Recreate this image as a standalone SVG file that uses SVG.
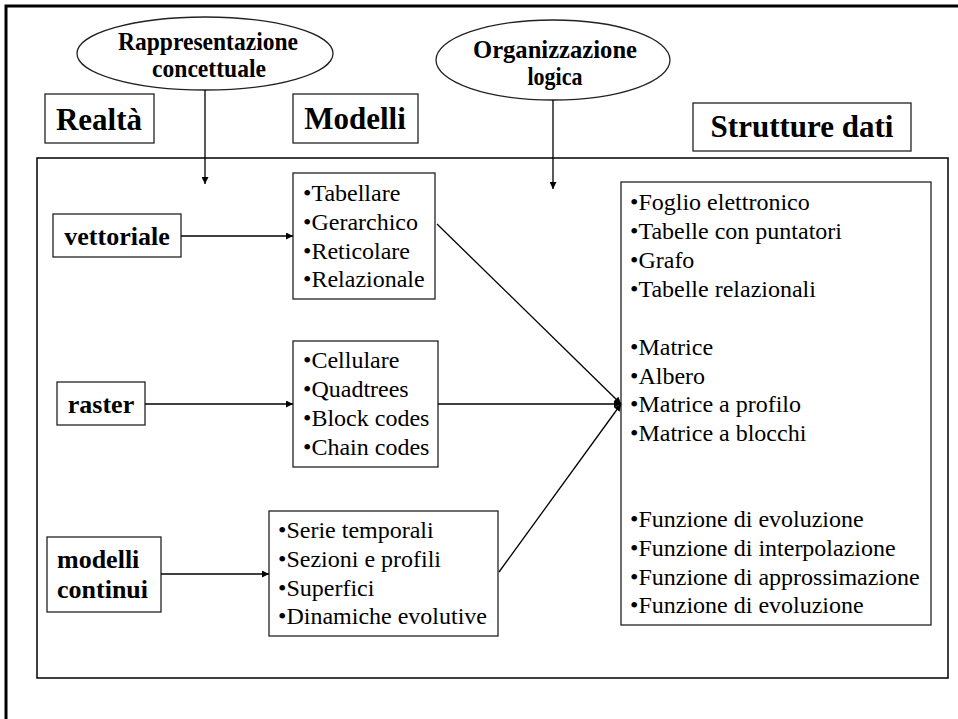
<svg xmlns="http://www.w3.org/2000/svg" width="958" height="719" viewBox="0 0 958 719">
  <style>
    text { font-family: 'Liberation Serif', 'DejaVu Serif', serif; fill: #000; }
    .box { fill: #fff; stroke: #222; stroke-width: 1.3; }
    .frame { fill: none; stroke: #000; stroke-width: 1.5; }
    .title { font-weight: bold; font-size: 31px; }
    .label { font-weight: bold; font-size: 26px; }
    .oval { font-weight: bold; font-size: 25px; }
    .item { font-size: 24px; }
    .wire { fill: none; stroke: #000; stroke-width: 1.3; }
  </style>
  <defs>
    <marker id="arrow" viewBox="0 0 10 10" refX="10" refY="5" markerWidth="8" markerHeight="7" markerUnits="userSpaceOnUse" orient="auto">
      <path d="M0,0 L10,5 L0,10 z" fill="#000"/>
    </marker>
  </defs>

  <rect width="958" height="719" fill="#fff"/>

  <!-- page border -->
  <polyline points="6,719 6,6 958,6" fill="none" stroke="#000" stroke-width="3"/>

  <!-- inner frame -->
  <rect class="frame" x="37" y="158" width="911" height="520"/>

  <!-- column headers -->
  <g id="realta">
    <rect class="box" x="45" y="94" width="109" height="49"/>
    <text class="title" x="99" y="130" text-anchor="middle">Realtà</text>
  </g>
  <g id="modelli">
    <rect class="box" x="293" y="94" width="125" height="49"/>
    <text class="title" x="355" y="129" text-anchor="middle">Modelli</text>
  </g>
  <g id="strutture">
    <rect class="box" x="693" y="103" width="218" height="48"/>
    <text class="title" x="802" y="137" text-anchor="middle">Strutture dati</text>
  </g>

  <!-- ovals -->
  <g id="rappresentazione">
    <ellipse class="box" cx="205" cy="53.5" rx="128" ry="36.5"/>
    <text class="oval" x="208" y="50" text-anchor="middle" textLength="180" lengthAdjust="spacingAndGlyphs">Rappresentazione</text>
    <text class="oval" x="209" y="77" text-anchor="middle" textLength="114" lengthAdjust="spacingAndGlyphs">concettuale</text>
  </g>
  <g id="organizzazione">
    <ellipse class="box" cx="553" cy="60" rx="117" ry="40"/>
    <text class="oval" x="555" y="58" text-anchor="middle" textLength="164" lengthAdjust="spacingAndGlyphs">Organizzazione</text>
    <text class="oval" x="555" y="85" text-anchor="middle" textLength="55" lengthAdjust="spacingAndGlyphs">logica</text>
  </g>

  <!-- reality types -->
  <g id="vettoriale">
    <rect class="box" x="53" y="214" width="128" height="43"/>
    <text class="label" x="117" y="245" text-anchor="middle">vettoriale</text>
  </g>
  <g id="raster">
    <rect class="box" x="57" y="382" width="88" height="43"/>
    <text class="label" x="101" y="413" text-anchor="middle">raster</text>
  </g>
  <g id="continui">
    <rect class="box" x="47" y="537" width="114" height="75"/>
    <text class="label" x="57" y="568">modelli</text>
    <text class="label" x="57" y="598">continui</text>
  </g>

  <!-- model lists -->
  <g id="modelli-vettoriali">
    <rect class="box" x="293" y="173" width="142" height="126"/>
    <text class="item" x="303" y="201">•Tabellare</text>
    <text class="item" x="303" y="230">•Gerarchico</text>
    <text class="item" x="303" y="259">•Reticolare</text>
    <text class="item" x="303" y="287">•Relazionale</text>
  </g>
  <g id="modelli-raster">
    <rect class="box" x="293" y="341" width="145" height="126"/>
    <text class="item" x="303" y="368">•Cellulare</text>
    <text class="item" x="303" y="397">•Quadtrees</text>
    <text class="item" x="303" y="426">•Block codes</text>
    <text class="item" x="303" y="455">•Chain codes</text>
  </g>
  <g id="modelli-continui">
    <rect class="box" x="269" y="511" width="229" height="125"/>
    <text class="item" x="278" y="538">•Serie temporali</text>
    <text class="item" x="278" y="567">•Sezioni e profili</text>
    <text class="item" x="278" y="596">•Superfici</text>
    <text class="item" x="278" y="624">•Dinamiche evolutive</text>
  </g>

  <!-- data structures list -->
  <g id="strutture-dati">
    <rect class="box" x="621" y="182" width="310" height="443"/>
    <text class="item" x="630" y="210">•Foglio elettronico</text>
    <text class="item" x="630" y="239">•Tabelle con puntatori</text>
    <text class="item" x="630" y="268">•Grafo</text>
    <text class="item" x="630" y="297">•Tabelle relazionali</text>
    <text class="item" x="630" y="355">•Matrice</text>
    <text class="item" x="630" y="384">•Albero</text>
    <text class="item" x="630" y="412">•Matrice a profilo</text>
    <text class="item" x="630" y="441">•Matrice a blocchi</text>
    <text class="item" x="630" y="527">•Funzione di evoluzione</text>
    <text class="item" x="630" y="556">•Funzione di interpolazione</text>
    <text class="item" x="630" y="585">•Funzione di approssimazione</text>
    <text class="item" x="630" y="613">•Funzione di evoluzione</text>
  </g>

  <!-- connectors -->
  <g id="connectors">
    <line class="wire" x1="205" y1="90" x2="205" y2="184" marker-end="url(#arrow)"/>
    <line class="wire" x1="553" y1="100" x2="553" y2="189" marker-end="url(#arrow)"/>
    <line class="wire" x1="181" y1="236" x2="293" y2="236" marker-end="url(#arrow)"/>
    <line class="wire" x1="145" y1="404" x2="293" y2="404" marker-end="url(#arrow)"/>
    <line class="wire" x1="161" y1="574" x2="269" y2="574" marker-end="url(#arrow)"/>
    <line class="wire" x1="437" y1="224" x2="621" y2="404" marker-end="url(#arrow)"/>
    <line class="wire" x1="438" y1="404" x2="621" y2="404" marker-end="url(#arrow)"/>
    <line class="wire" x1="499" y1="572" x2="621" y2="404" marker-end="url(#arrow)"/>
  </g>
</svg>
